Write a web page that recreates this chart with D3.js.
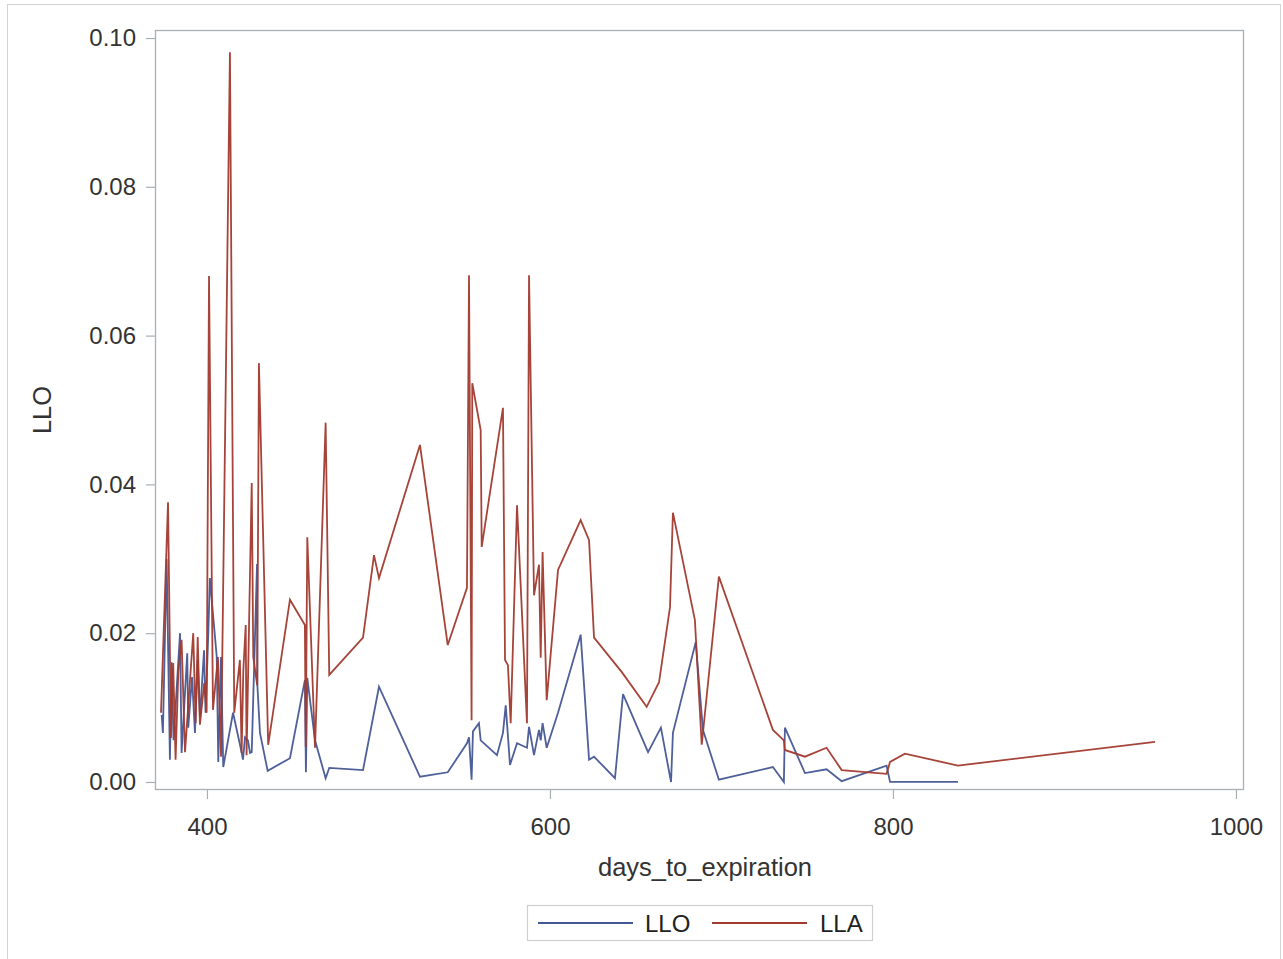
<!DOCTYPE html>
<html>
<head>
<meta charset="utf-8">
<script src="https://cdn.jsdelivr.net/npm/d3@7"></script>
<style>
  html, body { margin: 0; padding: 0; background: #ffffff; }
  svg { display: block; font-family: "Liberation Sans", Arial, sans-serif; }
</style>
</head>
<body>
<svg id="chart" width="1283" height="959"></svg>
<script>
// LLO series: days to expiration and value
const lloDays = [373.6, 374.3, 376.5, 378.4, 379.4, 380.5, 384.3, 385.2, 388.5, 389.1,
  391.3, 393.0, 394.6, 395.9, 398.3, 399.2, 400.8, 401.7, 405.7, 406.6,
  408.2, 409.5, 415.2, 420.2, 421.0, 422.2, 423.9, 425.1, 426.1, 429.2,
  429.4, 430.9, 435.4, 448.4, 457.1, 457.7, 458.5, 463.0, 469.2, 471.3,
  491.0, 500.3, 524.2, 540.4, 551.6, 552.8, 554.3, 555.1, 558.6, 559.6,
  569.1, 572.6, 574.2, 576.7, 580.8, 586.6, 587.8, 590.7, 593.6, 594.6,
  595.7, 598.1, 604.7, 617.9, 622.8, 625.7, 637.9, 642.6, 657.2, 664.7,
  670.6, 671.7, 685.0, 689.2, 698.5, 730.0, 736.4, 737.0, 748.7, 761.3,
  770.1, 796.3, 798.3, 837.9];
const lloValues = [0.0090, 0.0066, 0.0300, 0.0030, 0.0161, 0.0056, 0.0200, 0.0039, 0.0173, 0.0073,
  0.0141, 0.0066, 0.0164, 0.0087, 0.0177, 0.0093, 0.0202, 0.0274, 0.0168, 0.0027,
  0.0168, 0.0020, 0.0093, 0.0040, 0.0030, 0.0060, 0.0056, 0.0039, 0.0040, 0.0293,
  0.0130, 0.0066, 0.0015, 0.0032, 0.0137, 0.0013, 0.0140, 0.0056, 0.0005, 0.0019,
  0.0016, 0.0128, 0.0007, 0.0013, 0.0052, 0.0060, 0.0003, 0.0068, 0.0079, 0.0056,
  0.0036, 0.0066, 0.0103, 0.0023, 0.0052, 0.0046, 0.0074, 0.0036, 0.0070, 0.0056,
  0.0079, 0.0046, 0.0093, 0.0198, 0.0030, 0.0034, 0.0005, 0.0118, 0.0040, 0.0073,
  0.0000, 0.0066, 0.0188, 0.0070, 0.0003, 0.0020, 0.0000, 0.0073, 0.0012, 0.0017,
  0.0001, 0.0022, 0.0000, 0.0000];

// LLA series: days to expiration and value
const llaDays = [373.2, 377.3, 379.0, 380.3, 381.7, 383.3, 385.2, 387.2, 392.0, 393.4,
  394.6, 395.9, 398.4, 399.8, 401.2, 403.5, 406.4, 408.2, 413.4, 415.9,
  419.2, 420.2, 421.2, 422.6, 423.1, 426.1, 427.0, 429.3, 430.3, 435.7,
  448.4, 457.1, 457.6, 458.5, 463.0, 469.2, 471.3, 491.0, 497.4, 500.3,
  524.2, 540.4, 551.6, 552.8, 554.3, 554.7, 559.6, 560.2, 572.6, 573.8,
  575.5, 577.1, 580.8, 586.6, 587.8, 590.7, 593.6, 594.6, 595.7, 598.1,
  604.7, 617.9, 622.8, 625.7, 641.8, 656.4, 663.6, 670.0, 671.7, 684.5,
  688.5, 698.5, 730.0, 736.4, 737.0, 748.7, 761.3, 770.1, 796.3, 798.3,
  807.0, 837.9, 952.8];
const llaValues = [0.0093, 0.0376, 0.0059, 0.0160, 0.0030, 0.0148, 0.0191, 0.0040, 0.0200, 0.0079,
  0.0195, 0.0077, 0.0133, 0.0093, 0.0680, 0.0097, 0.0168, 0.0034, 0.0981, 0.0093,
  0.0164, 0.0039, 0.0150, 0.0211, 0.0036, 0.0402, 0.0168, 0.0130, 0.0563, 0.0050,
  0.0245, 0.0211, 0.0047, 0.0329, 0.0046, 0.0483, 0.0144, 0.0194, 0.0305, 0.0274,
  0.0453, 0.0184, 0.0261, 0.0681, 0.0083, 0.0536, 0.0473, 0.0316, 0.0503, 0.0164,
  0.0157, 0.0079, 0.0372, 0.0079, 0.0681, 0.0251, 0.0292, 0.0167, 0.0309, 0.0110,
  0.0285, 0.0352, 0.0325, 0.0194, 0.0148, 0.0101, 0.0134, 0.0235, 0.0362, 0.0218,
  0.0050, 0.0276, 0.0070, 0.0056, 0.0043, 0.0034, 0.0046, 0.0016, 0.0011, 0.0027,
  0.0038, 0.0022, 0.0054];

// Axis ticks and legend entries
const xTicks = [400, 600, 800, 1000];
const yTicks = [0.00, 0.02, 0.04, 0.06, 0.08, 0.10];
const seriesNames = ["LLO", "LLA"];
const seriesColors = ["#445694", "#a23a2e"];

const svg = d3.select("#chart");
const plot = { left: 155, top: 30, right: 1244, bottom: 790 };

// outer graph border
svg.append("rect")
  .attr("x", 7.5).attr("y", 4.5)
  .attr("width", 1273).attr("height", 1000)
  .attr("fill", "none").attr("stroke", "#d3d3d3").attr("stroke-width", 1);

const x = d3.scaleLinear().domain([369.7, 1004.7]).range([plot.left, plot.right]);
const y = d3.scaleLinear().domain([-0.00108, 0.10108]).range([plot.bottom, plot.top]);

svg.append("defs").append("clipPath").attr("id", "plotClip")
  .append("rect")
  .attr("x", plot.left).attr("y", plot.top)
  .attr("width", plot.right - plot.left).attr("height", plot.bottom - plot.top);

// axes
const axisColor = "#a9b0b4";
const xAxis = svg.append("g")
  .attr("transform", `translate(0,${plot.bottom})`)
  .call(d3.axisBottom(x).tickValues(xTicks).tickFormat(d3.format("d")).tickSize(9).tickPadding(19));
const yAxis = svg.append("g")
  .attr("transform", `translate(${plot.left},0)`)
  .call(d3.axisLeft(y).tickValues(yTicks).tickFormat(d3.format(".2f")).tickSize(9).tickPadding(10));

[xAxis, yAxis].forEach(g => {
  g.select(".domain").remove();
  g.selectAll(".tick line").attr("stroke", axisColor).attr("stroke-width", 1.2);
  g.selectAll(".tick text").attr("fill", "#333333").style("font-size", "24px");
});

// plot frame
svg.append("rect")
  .attr("x", plot.left + 0.5).attr("y", plot.top + 0.5)
  .attr("width", plot.right - plot.left - 1).attr("height", plot.bottom - plot.top - 1)
  .attr("fill", "none").attr("stroke", axisColor).attr("stroke-width", 1.3);

// series lines
const seriesData = [
  lloDays.map((d, i) => [d, lloValues[i]]),
  llaDays.map((d, i) => [d, llaValues[i]])
];
const line = d3.line().x(d => x(d[0])).y(d => y(d[1]));
const lines = svg.append("g").attr("clip-path", "url(#plotClip)");
seriesData.forEach((data, i) => {
  lines.append("path")
    .datum(data)
    .attr("d", line)
    .attr("fill", "none")
    .attr("stroke", seriesColors[i])
    .attr("stroke-width", 1.8)
    .attr("stroke-linejoin", "miter")
    .attr("stroke-opacity", 0.95);
});

// axis titles
svg.append("text")
  .attr("x", 705).attr("y", 876)
  .attr("text-anchor", "middle")
  .attr("fill", "#333333").style("font-size", "25.5px")
  .text("days_to_expiration");
svg.append("text")
  .attr("transform", "translate(51,410) rotate(-90)")
  .attr("text-anchor", "middle")
  .attr("fill", "#333333").style("font-size", "25.5px")
  .text("LLO");

// legend
const legend = svg.append("g");
legend.append("rect")
  .attr("x", 527.5).attr("y", 905.5).attr("width", 345).attr("height", 35)
  .attr("fill", "#ffffff").attr("stroke", "#cfcfcf").attr("stroke-width", 1.2);
const legendItems = [
  { x1: 538, x2: 633, tx: 645 },
  { x1: 712, x2: 807, tx: 820 }
];
legendItems.forEach((it, i) => {
  legend.append("line")
    .attr("x1", it.x1).attr("x2", it.x2).attr("y1", 923).attr("y2", 923)
    .attr("stroke", seriesColors[i]).attr("stroke-width", 1.8);
  legend.append("text")
    .attr("x", it.tx).attr("y", 932)
    .attr("fill", "#222222").style("font-size", "24px")
    .text(seriesNames[i]);
});
</script>
</body>
</html>
